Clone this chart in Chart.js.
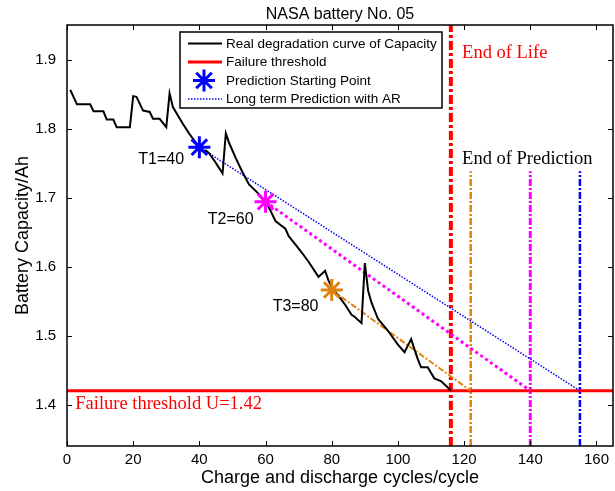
<!DOCTYPE html>
<html>
<head>
<meta charset="utf-8">
<script src="https://cdn.jsdelivr.net/npm/chart.js@4.4.1/dist/chart.umd.min.js"></script>
<style>
body { margin: 0; background: #fff; }
canvas { display: block; }
</style>
</head>
<body>
<canvas id="myChart" width="615" height="491"></canvas>
<script>
// measured capacity of battery No. 05
var cycles = [1, 3, 7, 8, 11, 12, 14, 15, 19, 20, 21, 23, 25, 26, 28, 30, 31, 32, 34, 35, 37, 40, 41, 42, 43, 45, 47, 48, 49, 51, 53, 55, 58, 60,
    61, 62, 63, 66, 67, 69, 71, 73, 76, 78, 79, 80, 82, 84, 86, 87, 89, 90, 91, 92, 94, 97, 100, 102, 104, 105, 106, 107, 109, 111, 113, 115, 116];
var capacity = [1.856, 1.835, 1.835, 1.825, 1.825, 1.813, 1.813, 1.802, 1.802, 1.847, 1.846, 1.826, 1.824, 1.814, 1.814, 1.802, 1.851, 1.831, 1.815, 1.807, 1.792, 1.773, 1.767, 1.768, 1.764, 1.750, 1.735, 1.793,
    1.779, 1.757, 1.737, 1.719, 1.705, 1.693, 1.686, 1.676, 1.666, 1.655, 1.644, 1.632, 1.620, 1.607, 1.585, 1.594, 1.580, 1.570, 1.558, 1.545, 1.530, 1.527, 1.518, 1.605,
    1.565, 1.548, 1.524, 1.507, 1.487, 1.476, 1.495, 1.480, 1.466, 1.454, 1.454, 1.438, 1.434, 1.425, 1.420];

var threshold = 1.42;
var startCycles = [40, 60, 80];
var startCapacity = [1.773, 1.694, 1.566];
var startLabels = ['T1=40', 'T2=60', 'T3=80'];
var predEndCycles = [155, 140, 122];
var endOfLife = 116;
var endPredTop = 1.738;

var xTicks = [0, 20, 40, 60, 80, 100, 120, 140, 160];
var yTicks = [1.4, 1.5, 1.6, 1.7, 1.8, 1.9];
var xMin = 0, xMax = 165, yMin = 1.34, yMax = 1.95;

var starColors = ['#0000ff', '#ff00ff', '#e0820f'];

function pts(xs, ys) {
    return xs.map(function(x, i) { return {x: x, y: ys[i]}; });
}

function predLine(i) {
    return [{x: startCycles[i], y: startCapacity[i]}, {x: predEndCycles[i], y: threshold}];
}

function vline(x, top) {
    return [{x: x, y: yMin}, {x: x, y: top}];
}

var sans = "'Liberation Sans', Arial, sans-serif";
var serif = "'Liberation Serif', 'Times New Roman', serif";

// frame, inward ticks, title, legend and text notes
var decorPlugin = {
    id: 'decor',
    afterDatasetsDraw: function(chart) {
        var ctx = chart.ctx;
        var a = chart.chartArea;
        var xs = chart.scales.x, ys = chart.scales.y;
        ctx.save();

        // ticks
        ctx.strokeStyle = '#000';
        ctx.lineWidth = 1;
        ctx.beginPath();
        xTicks.forEach(function(v) {
            var px = Math.round(xs.getPixelForValue(v)) + 0.5;
            ctx.moveTo(px, a.bottom); ctx.lineTo(px, a.bottom - 5);
            ctx.moveTo(px, a.top); ctx.lineTo(px, a.top + 5);
        });
        yTicks.forEach(function(v) {
            var py = Math.round(ys.getPixelForValue(v)) + 0.5;
            ctx.moveTo(a.left, py); ctx.lineTo(a.left + 5, py);
            ctx.moveTo(a.right, py); ctx.lineTo(a.right - 5, py);
        });
        ctx.stroke();

        // box
        ctx.lineWidth = 1.5;
        ctx.strokeRect(a.left, a.top, a.right - a.left, a.bottom - a.top);

        // title
        ctx.fillStyle = '#000';
        ctx.font = '16px ' + sans;
        ctx.textAlign = 'center';
        ctx.textBaseline = 'alphabetic';
        ctx.fillText('NASA battery No. 05', (a.left + a.right) / 2, 19);

        // start labels
        ctx.font = '16px ' + sans;
        ctx.textAlign = 'right';
        var labX = [35.4, 56.4, 76.0], labY = [1.748, 1.662, 1.536];
        startLabels.forEach(function(t, i) {
            ctx.fillText(t, xs.getPixelForValue(labX[i]), ys.getPixelForValue(labY[i]));
        });

        // serif notes
        ctx.textAlign = 'left';
        ctx.font = '18.5px ' + serif;
        ctx.fillStyle = '#ff0000';
        ctx.fillText('End of Life', xs.getPixelForValue(119.4), ys.getPixelForValue(1.902));
        ctx.fillText('Failure threshold U=1.42', xs.getPixelForValue(2.5), ys.getPixelForValue(1.393));
        ctx.fillStyle = '#000';
        ctx.fillText('End of Prediction', xs.getPixelForValue(119.4), ys.getPixelForValue(1.749));

        // legend
        var lx = 180, ly = 32, lw = 262, lh = 76;
        ctx.fillStyle = '#fff';
        ctx.fillRect(lx, ly, lw, lh);
        ctx.lineWidth = 1.5;
        ctx.strokeStyle = '#000';
        ctx.strokeRect(lx, ly, lw, lh);
        var rows = [43.5, 62, 80.5, 99];
        var ds = chart.data.datasets;
        var entries = [ds[1], ds[6], ds[0], ds[2]];
        ctx.font = '13.5px ' + sans;
        ctx.textBaseline = 'middle';
        entries.forEach(function(d, i) {
            var y = rows[i];
            if (d.legendStar) {
                ctx.strokeStyle = starColors[0];
                ctx.lineWidth = 3;
                ctx.beginPath();
                ctx.moveTo(204 - 11, y); ctx.lineTo(204 + 11, y);
                ctx.moveTo(204, y - 11); ctx.lineTo(204, y + 11);
                var r = 11 * Math.SQRT1_2;
                ctx.moveTo(204 - r, y - r); ctx.lineTo(204 + r, y + r);
                ctx.moveTo(204 - r, y + r); ctx.lineTo(204 + r, y - r);
                ctx.stroke();
            } else {
                ctx.strokeStyle = d.borderColor;
                ctx.lineWidth = d.borderWidth;
                ctx.setLineDash(d.borderDash || []);
                ctx.beginPath();
                ctx.moveTo(188, y); ctx.lineTo(222, y);
                ctx.stroke();
                ctx.setLineDash([]);
            }
            ctx.fillStyle = '#000';
            ctx.fillText(d.label, 226, y + 0.5);
        });

        ctx.restore();
    }
};

var ctx = document.getElementById('myChart').getContext('2d');
var myChart = new Chart(ctx, {
    type: 'line',
    data: {
        datasets: [{
            label: 'Prediction Starting Point',
            legendStar: true,
            data: pts(startCycles, startCapacity),
            showLine: false,
            pointStyle: 'star',
            pointRadius: 11,
            pointBorderWidth: 3,
            pointBorderColor: starColors,
            pointBackgroundColor: starColors
        }, {
            label: 'Real degradation curve of Capacity',
            data: pts(cycles, capacity),
            borderColor: '#000000',
            borderWidth: 2,
            pointRadius: 0
        }, {
            label: 'Long term Prediction with AR',
            data: predLine(0),
            borderColor: '#0000ff',
            borderWidth: 1.5,
            borderDash: [1.5, 1.5],
            pointRadius: 0
        }, {
            label: 'T2 prediction',
            data: predLine(1),
            borderColor: '#ff00ff',
            borderWidth: 3,
            borderDash: [3, 3],
            pointRadius: 0
        }, {
            label: 'T3 prediction',
            data: predLine(2),
            borderColor: '#e0820f',
            borderWidth: 2,
            borderDash: [6, 2, 2, 2],
            pointRadius: 0
        }, {
            label: 'End of Life',
            data: vline(endOfLife, yMax),
            borderColor: '#ff0000',
            borderWidth: 4,
            borderDash: [9, 3, 3, 3],
            pointRadius: 0
        }, {
            label: 'Failure threshold',
            data: pts([xMin, xMax], [threshold, threshold]),
            borderColor: '#ff0000',
            borderWidth: 3,
            pointRadius: 0
        }, {
            label: 'End T3',
            data: vline(predEndCycles[2], endPredTop),
            borderColor: '#e0820f',
            borderWidth: 2.5,
            borderDash: [7, 2, 2, 2],
            pointRadius: 0
        }, {
            label: 'End T2',
            data: vline(predEndCycles[1], endPredTop),
            borderColor: '#ff00ff',
            borderWidth: 3,
            borderDash: [7, 2, 2, 2],
            pointRadius: 0
        }, {
            label: 'End T1',
            data: vline(predEndCycles[0], endPredTop),
            borderColor: '#0000ff',
            borderWidth: 2.5,
            borderDash: [7, 2, 2, 2],
            pointRadius: 0
        }]
    },
    options: {
        responsive: false,
        animation: false,
        layout: { autoPadding: false, padding: { left: 0, right: 2, top: 25, bottom: 0 } },
        plugins: {
            legend: { display: false },
            tooltip: { enabled: false }
        },
        scales: {
            x: {
                type: 'linear',
                min: xMin,
                max: xMax,
                afterBuildTicks: function(s) { s.ticks = xTicks.map(function(v) { return {value: v}; }); },
                afterFit: function(s) { s.height = 45; s.paddingLeft = 0; s.paddingRight = 0; },
                grid: { display: false, drawTicks: false },
                border: { display: false },
                ticks: { color: '#000', font: { family: sans, size: 15 }, padding: 5, maxRotation: 0 },
                title: { display: true, text: 'Charge and discharge cycles/cycle', color: '#000',
                    font: { family: sans, size: 18 }, padding: { top: 0, bottom: 2 } }
            },
            y: {
                type: 'linear',
                min: yMin,
                max: yMax,
                afterBuildTicks: function(s) { s.ticks = yTicks.map(function(v) { return {value: v}; }); },
                afterFit: function(s) { s.width = 67; s.paddingTop = 0; s.paddingBottom = 0; },
                grid: { display: false, drawTicks: false },
                border: { display: false },
                ticks: { color: '#000', font: { family: sans, size: 15 }, padding: 11,
                    callback: function(v) { return v.toFixed(1); } },
                title: { display: true, text: 'Battery Capacity/Ah', color: '#000',
                    font: { family: sans, size: 18 }, padding: { top: 12, bottom: 0 } }
            }
        }
    },
    plugins: [decorPlugin]
});
</script>
</body>
</html>
